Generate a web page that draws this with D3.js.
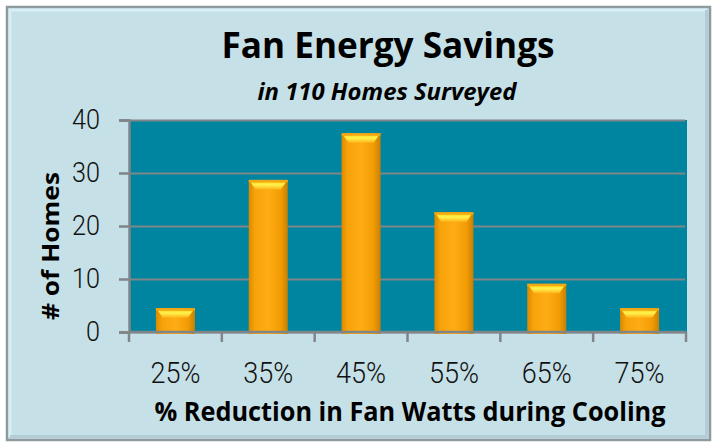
<!DOCTYPE html>
<html>
<head>
<meta charset="utf-8">
<script src="https://cdn.jsdelivr.net/npm/d3@7"></script>
<style>
  body { margin: 0; background: #ffffff; }
</style>
</head>
<body>
<div class="container"></div>
<script>
// chart data
const categories = ["25%", "35%", "45%", "55%", "65%", "75%"];
const homes = [4.5, 28.7, 37.5, 22.6, 9.1, 4.5];
const yTicks = [0, 10, 20, 30, 40];

const width = 713;
const height = 443;
const margin = { top: 120, right: 27, bottom: 111, left: 129 };

const svg = d3.select(".container")
  .append("svg")
  .attr("width", width)
  .attr("height", height);

const defs = svg.append("defs");

// bar body: darker edges, bright middle
const barGrad = defs.append("linearGradient").attr("id", "barGrad")
  .attr("x1", 0).attr("x2", 1).attr("y1", 0).attr("y2", 0);
barGrad.append("stop").attr("offset", "0%").attr("stop-color", "#d98a00");
barGrad.append("stop").attr("offset", "15%").attr("stop-color", "#f7a20a");
barGrad.append("stop").attr("offset", "50%").attr("stop-color", "#ffad14");
barGrad.append("stop").attr("offset", "82%").attr("stop-color", "#f29c05");
barGrad.append("stop").attr("offset", "100%").attr("stop-color", "#c98000");

// cap on top of each bar
const capGrad = defs.append("linearGradient").attr("id", "capGrad")
  .attr("x1", 0).attr("x2", 0).attr("y1", 0).attr("y2", 1);
capGrad.append("stop").attr("offset", "0%").attr("stop-color", "#ffe02a");
capGrad.append("stop").attr("offset", "35%").attr("stop-color", "#fff24e");
capGrad.append("stop").attr("offset", "100%").attr("stop-color", "#ffb318");

// outer frame with a bevel look
svg.append("rect")
  .attr("x", 7).attr("y", 7)
  .attr("width", 703).attr("height", 433)
  .attr("fill", "#c6e0e7")
  .attr("stroke", "#8f9a9e")
  .attr("stroke-width", 2.5);
svg.append("path")
  .attr("d", "M10,437 L10,10 L707,10")
  .attr("fill", "none")
  .attr("stroke", "#d6eef4")
  .attr("stroke-width", 3);
svg.append("path")
  .attr("d", "M10,436.5 L706.5,436.5 L706.5,10")
  .attr("fill", "none")
  .attr("stroke", "#b4cdd4")
  .attr("stroke-width", 3);

const x = d3.scaleBand()
  .domain(categories)
  .range([margin.left, width - margin.right])
  .padding(0);

const y = d3.scaleLinear()
  .domain([0, 40])
  .range([height - margin.bottom, margin.top]);

// plot background
svg.append("rect")
  .attr("x", margin.left)
  .attr("y", margin.top)
  .attr("width", width - margin.right - margin.left + 1)
  .attr("height", height - margin.bottom - margin.top)
  .attr("fill", "#0085a1");

// gridlines
svg.append("g")
  .attr("transform", `translate(${margin.left},0)`)
  .call(d3.axisLeft(y).tickValues(yTicks).tickSize(-(width - margin.right - margin.left - 1)).tickFormat(""))
  .call(g => g.select(".domain").remove())
  .call(g => g.selectAll("line").attr("stroke", "#7f8588").attr("stroke-width", 2));

// bars
const barW = x.bandwidth() * 0.42;
const bars = svg.append("g")
  .selectAll("g")
  .data(homes)
  .join("g")
  .attr("transform", (d, i) => `translate(${x(categories[i]) + (x.bandwidth() - barW) / 2},0)`);

bars.append("rect")
  .attr("x", 0)
  .attr("y", d => y(d))
  .attr("width", barW)
  .attr("height", d => y(0) - y(d) + 2)
  .attr("fill", "url(#barGrad)");

bars.append("rect")
  .attr("x", 0)
  .attr("y", d => y(d))
  .attr("width", barW)
  .attr("height", 2.5)
  .attr("fill", "#f2a714");

bars.append("path")
  .attr("d", d => {
    const t = y(d) + 2.5;
    return `M2,${t} L${barW - 2},${t} L${barW - 7},${t + 7} L7,${t + 7} Z`;
  })
  .attr("fill", "url(#capGrad)");

// y axis
svg.append("g")
  .attr("transform", `translate(${margin.left},0)`)
  .call(d3.axisLeft(y).tickValues(yTicks).tickSize(10).tickPadding(19))
  .call(g => g.select(".domain").attr("stroke", "#7f8588").attr("stroke-width", 2.5))
  .call(g => g.selectAll("line").attr("stroke", "#7f8588").attr("stroke-width", 2.5))
  .call(g => g.selectAll("text")
    .attr("fill", "#111")
    .style("font-family", "Roboto, 'Liberation Sans', sans-serif")
    .style("font-weight", 300)
    .style("font-size", "28px")
    .attr("textLength", d => String(d).length * 14)
    .attr("lengthAdjust", "spacingAndGlyphs"));

// x axis line and tick marks at the band edges
const edges = categories.map(c => x(c)).concat([width - margin.right]);
svg.append("line")
  .attr("x1", margin.left).attr("x2", width - margin.right)
  .attr("y1", y(0)).attr("y2", y(0))
  .attr("stroke", "#7f8588").attr("stroke-width", 2.5);
svg.append("g")
  .selectAll("line")
  .data(edges)
  .join("line")
  .attr("x1", d => d).attr("x2", d => d)
  .attr("y1", y(0)).attr("y2", y(0) + 10)
  .attr("stroke", "#7f8588").attr("stroke-width", 2.5);

// x tick labels
svg.append("g")
  .attr("transform", `translate(0,${y(0)})`)
  .call(d3.axisBottom(x).tickSize(0).tickPadding(30))
  .call(g => g.select(".domain").remove())
  .call(g => g.selectAll("text")
    .attr("fill", "#111")
    .style("font-family", "Roboto, 'Liberation Sans', sans-serif")
    .style("font-weight", 300)
    .style("font-size", "30px")
    .attr("textLength", 50)
    .attr("lengthAdjust", "spacingAndGlyphs"));

// titles
svg.append("text")
  .attr("x", 388).attr("y", 58)
  .attr("text-anchor", "middle")
  .attr("textLength", 333).attr("lengthAdjust", "spacingAndGlyphs")
  .style("font-family", "'Open Sans', sans-serif")
  .style("font-weight", 700)
  .style("font-size", "36px")
  .text("Fan Energy Savings");

svg.append("text")
  .attr("x", 387).attr("y", 100)
  .attr("text-anchor", "middle")
  .attr("textLength", 259).attr("lengthAdjust", "spacingAndGlyphs")
  .style("font-family", "'Open Sans', sans-serif")
  .style("font-weight", 700)
  .style("font-style", "italic")
  .style("font-size", "23px")
  .text("in 110 Homes Surveyed");

svg.append("text")
  .attr("x", 410).attr("y", 421)
  .attr("text-anchor", "middle")
  .attr("textLength", 511).attr("lengthAdjust", "spacingAndGlyphs")
  .style("font-family", "'Open Sans', sans-serif")
  .style("font-weight", 700)
  .style("font-size", "27px")
  .text("% Reduction in Fan Watts during Cooling");

svg.append("text")
  .attr("transform", "translate(59,246) rotate(-90)")
  .attr("text-anchor", "middle")
  .attr("textLength", 148).attr("lengthAdjust", "spacingAndGlyphs")
  .style("font-family", "'Open Sans', sans-serif")
  .style("font-weight", 700)
  .style("font-size", "24px")
  .text("# of Homes");
</script>
</body>
</html>
